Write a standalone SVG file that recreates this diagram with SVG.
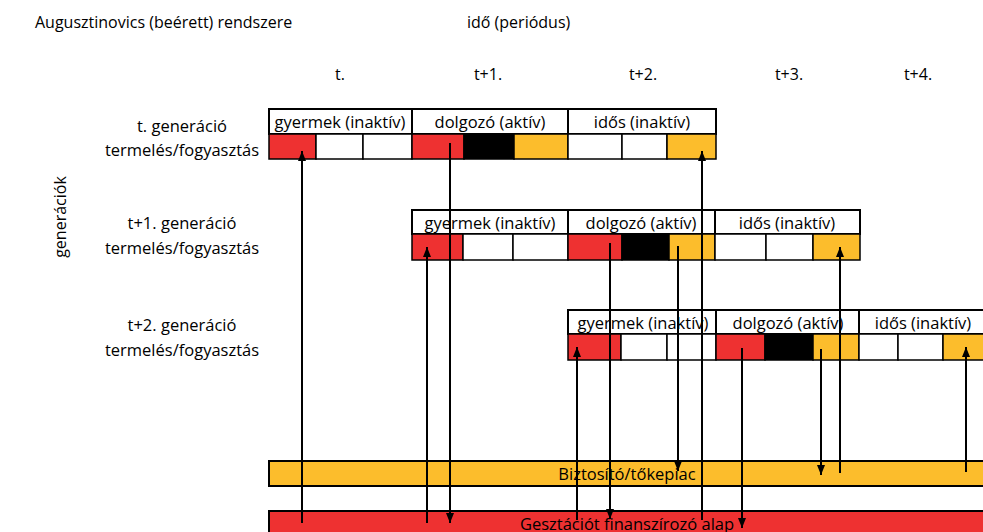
<svg xmlns="http://www.w3.org/2000/svg" width="983" height="532" viewBox="0 0 983 532">
<defs>
<style>
text{font-family:"Open Sans","Noto Sans","Liberation Sans",sans-serif;fill:#000}
.t{font-size:16px}
.h{font-size:16.5px;text-anchor:middle}
.l{font-size:16.5px;text-anchor:middle}
.b{fill:#fff;stroke:#000;stroke-width:2}
.r{fill:#EE3131;stroke:#000;stroke-width:1.5}
.w{fill:#fff;stroke:#000;stroke-width:1.5}
.k{fill:#000;stroke:#000;stroke-width:1.5}
.y{fill:#FCBD2C;stroke:#000;stroke-width:1.5}
.c{stroke:#000;stroke-width:2;fill:none}
.a{marker-end:url(#ah)}
</style>
<marker id="ah" viewBox="0 0 10 8" refX="10" refY="4" markerWidth="10" markerHeight="8" markerUnits="userSpaceOnUse" orient="auto">
<path d="M0,0 L10,4 L0,8 z" fill="#000"/>
</marker>
</defs>
<rect width="983" height="532" fill="#fff"/>

<g id="titles">
<text class="t" x="35" y="28">Augusztinovics (beérett) rendszere</text>
<text class="t" x="467" y="28">idő (periódus)</text>
<text class="t" x="340" y="80" text-anchor="middle">t.</text>
<text class="t" x="488" y="80" text-anchor="middle">t+1.</text>
<text class="t" x="643" y="80" text-anchor="middle">t+2.</text>
<text class="t" x="789" y="80" text-anchor="middle">t+3.</text>
<text class="t" x="918" y="80" text-anchor="middle">t+4.</text>
<text class="t" transform="translate(66,217) rotate(-90)" text-anchor="middle">generációk</text>
</g>

<g id="gen-t">
<text class="l" x="182" y="132">t. generáció</text>
<text class="l" x="182" y="156">termelés/fogyasztás</text>
<rect class="b" x="269" y="109" width="143" height="25"/>
<rect class="b" x="412" y="109" width="156" height="25"/>
<rect class="b" x="568" y="109" width="148" height="25"/>
<text class="h" x="340" y="128">gyermek (inaktív)</text>
<text class="h" x="490" y="128">dolgozó (aktív)</text>
<text class="h" x="642" y="128">idős (inaktív)</text>
<rect class="r" x="269" y="134" width="47" height="25"/>
<rect class="w" x="316" y="134" width="47" height="25"/>
<rect class="w" x="363" y="134" width="49" height="25"/>
<rect class="r" x="412" y="134" width="52" height="25"/>
<rect class="k" x="464" y="134" width="50" height="25"/>
<rect class="y" x="514" y="134" width="54" height="25"/>
<rect class="w" x="568" y="134" width="54" height="25"/>
<rect class="w" x="622" y="134" width="45" height="25"/>
<rect class="y" x="667" y="134" width="49" height="25"/>
</g>

<g id="gen-t1">
<text class="l" x="182" y="229">t+1. generáció</text>
<text class="l" x="182" y="254">termelés/fogyasztás</text>
<rect class="b" x="412" y="210" width="156" height="24"/>
<rect class="b" x="568" y="210" width="147" height="24"/>
<rect class="b" x="715" y="210" width="145" height="24"/>
<text class="h" x="490" y="229">gyermek (inaktív)</text>
<text class="h" x="641" y="229">dolgozó (aktív)</text>
<text class="h" x="787" y="229">idős (inaktív)</text>
<rect class="r" x="412" y="234" width="51" height="26"/>
<rect class="w" x="463" y="234" width="50" height="26"/>
<rect class="w" x="513" y="234" width="55" height="26"/>
<rect class="r" x="568" y="234" width="54" height="26"/>
<rect class="k" x="622" y="234" width="47" height="26"/>
<rect class="y" x="669" y="234" width="46" height="26"/>
<rect class="w" x="715" y="234" width="51" height="26"/>
<rect class="w" x="766" y="234" width="47" height="26"/>
<rect class="y" x="813" y="234" width="47" height="26"/>
</g>

<g id="gen-t2">
<text class="l" x="182" y="331">t+2. generáció</text>
<text class="l" x="182" y="356">termelés/fogyasztás</text>
<rect class="b" x="568" y="310" width="148" height="24"/>
<rect class="b" x="716" y="310" width="143" height="24"/>
<rect class="b" x="859" y="310" width="145" height="24"/>
<text class="h" x="643" y="329">gyermek (inaktív)</text>
<text class="h" x="788" y="329">dolgozó (aktív)</text>
<text class="h" x="923" y="329">idős (inaktív)</text>
<rect class="r" x="568" y="334" width="53" height="26"/>
<rect class="w" x="621" y="334" width="46" height="26"/>
<rect class="w" x="667" y="334" width="49" height="26"/>
<rect class="r" x="716" y="334" width="49" height="26"/>
<rect class="k" x="765" y="334" width="48" height="26"/>
<rect class="y" x="813" y="334" width="46" height="26"/>
<rect class="w" x="859" y="334" width="39" height="26"/>
<rect class="w" x="898" y="334" width="45" height="26"/>
<rect class="y" x="943" y="334" width="61" height="26"/>
</g>

<g id="biztosito">
<rect x="269" y="461" width="740" height="25" fill="#FCBD2C" stroke="#000" stroke-width="2"/>
<text x="627" y="480" font-size="16.5" text-anchor="middle">Biztosító/tőkepiac</text>
</g>

<g id="alap">
<rect x="269" y="511" width="740" height="30" fill="#EE3131" stroke="#000" stroke-width="2"/>
<text x="627" y="530" font-size="16.5" text-anchor="middle">Gesztációt finanszírozó alap</text>
</g>

<g id="connectors">
<line class="c a" x1="302" y1="523" x2="302" y2="151"/>
<line class="c a" x1="450" y1="143" x2="450" y2="523"/>
<line class="c a" x1="702" y1="520" x2="702" y2="151"/>
<line class="c a" x1="427" y1="523" x2="427" y2="247"/>
<line class="c a" x1="610" y1="243" x2="610" y2="519"/>
<line class="c a" x1="678" y1="246" x2="678" y2="471"/>
<line class="c a" x1="840" y1="473" x2="840" y2="247"/>
<line class="c a" x1="577" y1="520" x2="577" y2="347"/>
<line class="c a" x1="742" y1="348" x2="742" y2="528"/>
<line class="c a" x1="821" y1="349" x2="821" y2="475"/>
<line class="c a" x1="966" y1="472" x2="966" y2="347"/>
</g>
</svg>
